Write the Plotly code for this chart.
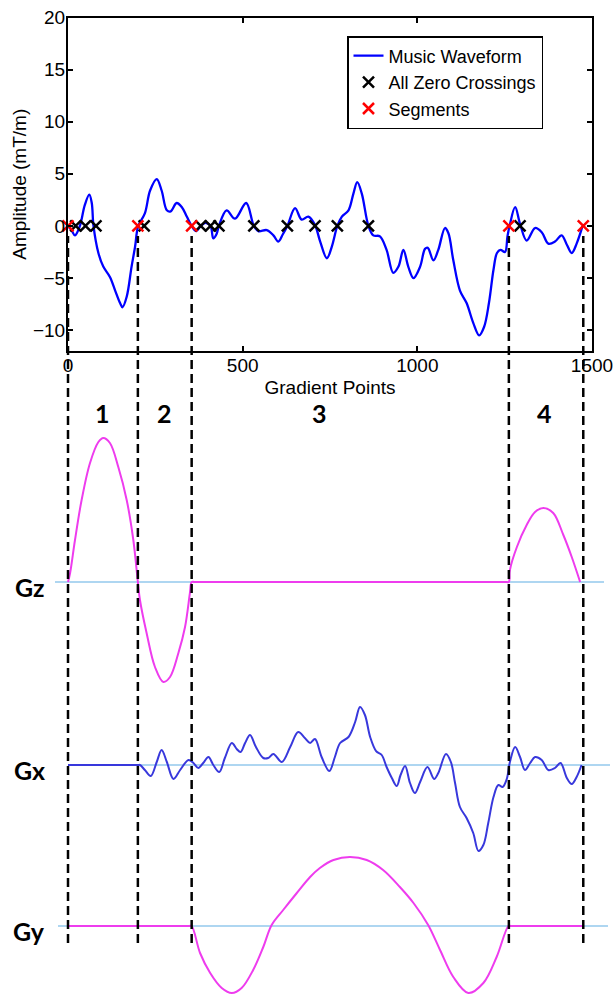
import plotly.graph_objects as go

W, H = 616, 996

# ---------------- data ----------------
# Music waveform (gradient points, mT/m)
wave_x = [0, 10, 20, 34, 48, 61, 68, 73, 87, 101, 120, 135, 149, 156, 168, 182, 192, 201,
          220, 235, 254, 268, 283, 294, 311, 326, 340, 354, 367, 380, 394, 408, 416, 425, 432,
          454, 478, 510, 532, 545, 569, 588, 602, 615, 628, 650, 669, 688, 707, 721, 741,
          755, 771, 784, 803, 817, 828, 841, 860, 874, 893, 912, 931, 946, 960, 974, 989,
          1008, 1022, 1030, 1046, 1060, 1079, 1089, 1103, 1122, 1141, 1160, 1177, 1191, 1205,
          1218, 1228, 1238, 1251, 1258, 1264, 1280, 1294, 1313, 1337, 1356, 1375, 1394, 1413,
          1428, 1442, 1456, 1473]
wave_y = [0, -0.4, -0.9, 0, 2.0, 3.0, 2.2, 0, -2.6, -3.9, -4.9, -6.2, -7.4, -7.8, -6.8, -3.9, -2.0, 0,
          1.2, 3.4, 4.5, 3.4, 1.5, 1.4, 2.2, 1.8, 0.9, 0, -0.5, 0, 0.3, 0, -1.2, -0.8, 0,
          1.5, 0.7, 2.2, 0, -0.5, -0.4, -0.9, -1.5, -0.8, 0, 1.7, 0.6, 0.9, 0.1, -1.4, -3.1,
          -2.0, 0, 0.9, 1.5, 3.1, 4.2, 3.1, 0, -0.9, -1.0, -2.3, -4.5, -3.9, -2.3, -3.9, -5.0,
          -3.9, -2.2, -2.1, -3.3, -2.3, -0.2, -0.7, -3.3, -6.2, -7.4, -9.3, -10.5, -9.7, -7.4,
          -4.2, -2.6, -2.3, -2.5, -1.0, 0, 1.8, 0.2, -1.4, -0.2, -0.6, -1.7, -1.5, -0.9,
          -1.8, -2.6, -1.7, 0]

zero_x = [22, 50, 80, 218, 380, 408, 432, 532, 628, 707, 771, 860, 1294]
zero_y = [0] * len(zero_x)
seg_x = [0, 200, 354, 1262, 1475]
seg_y = [0] * len(seg_x)

# Lower schematic (arbitrary amplitude units)
gz_x = [0, 6, 20, 39, 63, 87, 101, 120, 144, 168, 187, 200, 206, 225, 249, 273, 292, 316,
        335, 349, 354, 362, 1255, 1262, 1265, 1285, 1313, 1337, 1361, 1389, 1418, 1442, 1466]
gz_y = [0, 0.9, 4.2, 8.2, 11.9, 14.0, 14.4, 13.9, 11.5, 8.2, 4.2, 0, -1.8, -5.1, -8.5, -10.0, -9.5, -7.1,
        -4.5, -1.1, 0, 0, 0, 0, 1.2, 3.5, 5.7, 7.0, 7.4, 6.9, 4.7, 2.5, 0]

gx_x = [0, 100, 200, 206, 220, 237, 254, 268, 283, 302, 321, 345, 359, 373, 387, 402, 416, 433,
        449, 469, 483, 494, 507, 521, 538, 559, 573, 588, 612, 636, 659, 678, 693, 707, 726,
        748, 764, 779, 803, 822, 836, 850, 865, 882, 898, 912, 927, 941, 952, 965, 979, 993,
        1008, 1029, 1048, 1060, 1082, 1096, 1108, 1122, 1141, 1160, 1175, 1189, 1203, 1218,
        1232, 1244, 1256, 1265, 1280, 1294, 1308, 1323, 1337, 1356, 1375, 1394, 1410, 1428,
        1442, 1456, 1470]
gx_y = [0, 0, 0, 0, -0.5, -1.1, 0.3, 1.5, 0.3, -1.4, -0.5, 0.5, 0.2, -0.3, 0.2, 0.8, 0, -0.7,
        0.7, 2.2, 1.6, 1.3, 2.2, 3.0, 1.8, 0.7, 0.7, 1.1, 0.3, 1.8, 3.3, 2.7, 2.2, 2.6, 0.8,
        -0.6, 0.8, 2.2, 2.8, 4.3, 5.8, 5.0, 2.8, 1.4, 1.0, -0.2, -1.3, -2.1, -1.0, -0.1, -1.8, -2.8,
        -1.7, -0.2, -1.4, -0.8, 1.1, 0.3, -1.8, -4.2, -5.3, -6.8, -8.6, -8.0, -5.8, -3.2,
        -2.0, -2.2, -1.4, 0.3, 1.8, 0.8, -0.5, 0.2, 0.8, 0.5, -0.5, -0.3, 0.2, -1.3,
        -1.9, -1.2, 0]

gy_x = [0, 200, 347, 354, 378, 407, 440, 469, 497, 530, 559, 583, 616, 655, 693, 721, 760, 807,
        855, 902, 950, 989, 1031, 1065, 1103, 1146, 1189, 1227, 1261, 1268, 1475]
gy_y = [0, 0, 0, 0, -2.7, -4.7, -6.2, -6.7, -6.2, -4.4, -2.1, 0.1, 1.6, 3.3, 4.9, 5.8, 6.6, 6.9,
        6.6, 5.6, 3.9, 2.3, 0.1, -2.4, -5.1, -6.7, -5.7, -3.1, 0, 0, 0]

seg_labels = ["1", "2", "3", "4"]
seg_label_x = [100, 275, 720, 1365]
channel_names = ["Gz", "Gx", "Gy"]

# ---------------- layout constants (pixels) ----------------
PL, PR, PT, PB = 68, 592, 17.5, 351
XMAX = 1500
scale = (PR - PL) / XMAX
wide_range = [-PL / scale, XMAX + (W - PR) / scale]


def py(p):
    return 1 - p / H


def pxp(p):
    return p / W


# channel axes: (baseline px, top px, bottom px), 10 px per unit
chan = {
    "y2": (582, 432, 700),
    "y3": (765, 700, 856),
    "y4": (926, 856, 996),
}
baseline_ext = {"y2": (55, 604), "y3": (72, 610), "y4": (58, 608)}

AX_FONT = dict(family="Liberation Sans, Arial, sans-serif", size=19, color="black")
BOLD_FONT = dict(family="Lato, Open Sans, sans-serif", size=25, color="black")
MAGENTA = "#ee3cee"
GXBLUE = "#3838dc"
LIGHTBLUE = "#93c8ec"

fig = go.Figure()

fig.add_trace(go.Scatter(x=wave_x, y=wave_y, mode="lines", name="Music Waveform",
                         line=dict(color="#0000ff", width=2.3, shape="spline"),
                         xaxis="x", yaxis="y"))
fig.add_trace(go.Scatter(x=zero_x, y=zero_y, mode="markers", name="All Zero Crossings",
                         marker=dict(symbol="x-thin", size=11, color="black",
                                     line=dict(width=2.5, color="black")),
                         cliponaxis=False, xaxis="x", yaxis="y"))
fig.add_trace(go.Scatter(x=seg_x, y=seg_y, mode="markers", name="Segments",
                         marker=dict(symbol="x-thin", size=11, color="#ff0000",
                                     line=dict(width=2.5, color="#ff0000")),
                         cliponaxis=False, xaxis="x", yaxis="y"))

fig.add_trace(go.Scatter(x=gz_x, y=gz_y, mode="lines", showlegend=False,
                         line=dict(color=MAGENTA, width=2, shape="spline"),
                         xaxis="x2", yaxis="y2"))
fig.add_trace(go.Scatter(x=gx_x, y=gx_y, mode="lines", showlegend=False,
                         line=dict(color=GXBLUE, width=2, shape="spline"),
                         xaxis="x2", yaxis="y3"))
fig.add_trace(go.Scatter(x=gy_x, y=gy_y, mode="lines", showlegend=False,
                         line=dict(color=MAGENTA, width=2, shape="spline"),
                         xaxis="x2", yaxis="y4"))

layout = dict(
    width=W, height=H, autosize=False,
    margin=dict(l=0, r=0, t=0, b=0, pad=0),
    paper_bgcolor="white", plot_bgcolor="rgba(0,0,0,0)",
    showlegend=True,
    legend=dict(x=pxp(347), y=py(36), xanchor="left", yanchor="top",
                bgcolor="white", bordercolor="black", borderwidth=1.5,
                font=dict(family="Liberation Sans, Arial, sans-serif", size=18, color="black"),
                tracegroupgap=0, itemwidth=30),
    xaxis=dict(domain=[pxp(PL), pxp(PR)], range=[0, XMAX], anchor="y", automargin=False,
               tickvals=[0, 500, 1000, 1500], ticks="inside", ticklen=5, tickwidth=1.5,
               tickcolor="black", showline=True, linecolor="black", linewidth=2,
               mirror="ticks", showgrid=False, zeroline=False, tickfont=AX_FONT,
               ticklabelstandoff=-4,
               title=dict(text="Gradient Points", font=AX_FONT, standoff=6)),
    yaxis=dict(domain=[py(PB), py(PT)], range=[-12, 20], anchor="x", automargin=False,
               tickvals=[-10, -5, 0, 5, 10, 15, 20], ticks="inside", ticklen=5, tickwidth=1.5,
               tickcolor="black", showline=True, linecolor="black", linewidth=2,
               mirror="ticks", showgrid=False, zeroline=False, tickfont=AX_FONT,
               ticklabelstandoff=-3,
               title=dict(text="Amplitude (mT/m)", font=AX_FONT, standoff=1)),
    xaxis2=dict(domain=[0, 1], range=wide_range, anchor="y2", visible=False, automargin=False),
)
for k, (b, t, bt) in chan.items():
    layout["yaxis" + k[1:]] = dict(domain=[py(bt), py(t)],
                                   range=[-(bt - b) / 10.0, (b - t) / 10.0],
                                   anchor="x2", visible=False, automargin=False)
fig.update_layout(**layout)

shapes = []
for k, (x0p, x1p) in baseline_ext.items():
    shapes.append(dict(type="line", xref="paper", yref=k, x0=pxp(x0p), x1=pxp(x1p), y0=0, y1=0,
                       line=dict(color=LIGHTBLUE, width=1.5), layer="below"))
for s in seg_x:
    shapes.append(dict(type="line", xref="x2", yref="paper", x0=s, x1=s, y0=py(943), y1=py(236),
                       line=dict(color="black", width=2.5, dash="9px,5px"), layer="above"))
fig.update_layout(shapes=shapes)

annotations = []
for lab, lx in zip(seg_labels, seg_label_x):
    annotations.append(dict(text="<b>" + lab + "</b>", x=lx, y=py(413), xref="x2", yref="paper",
                            showarrow=False, font=BOLD_FONT, xanchor="center", yanchor="middle"))
for name, k in zip(channel_names, ["y2", "y3", "y4"]):
    annotations.append(dict(text="<b>" + name + "</b>", x=pxp(29), y=0, xref="paper", yref=k,
                            yshift=-5, showarrow=False, font=BOLD_FONT,
                            xanchor="center", yanchor="middle"))
fig.update_layout(annotations=annotations)

fig.write_html("out.html")
